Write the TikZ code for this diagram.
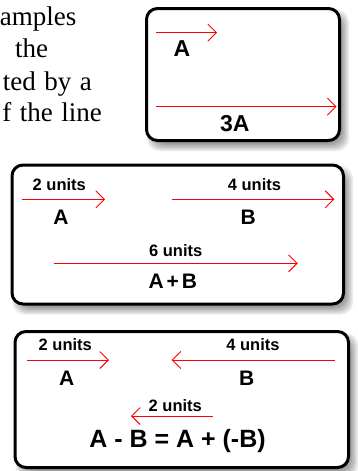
\documentclass[tikz,border=0pt]{standalone}
\usepackage{fontspec}
\setmainfont{Liberation Serif}
\newfontfamily\lsans{Liberation Sans}
\usetikzlibrary{arrows.meta}
\newcommand\boxshadow[4]{%
  \foreach \s in {-3,-1.5,0,1.5,3,4.5}{%
    \fill[black,opacity=0.08,rounded corners=12pt]
      ({#1+5-(\s)},{#2+6-(\s)}) rectangle ({#3+5+(\s)},{#4+6+(\s)});}}
\newcommand\wsp{\hspace{8.5pt}}
\begin{document}
\begin{tikzpicture}[x=1pt,y=-1pt,
  vec/.style={draw=red, line width=0.9pt, -{Straight Barb[length=8.5pt,width=17pt]}},
  frame/.style={draw=black, line width=3pt, rounded corners=11pt, fill=white},
  biglab/.style={font=\lsans\bfseries\fontsize{23}{23}\selectfont, inner sep=0pt, anchor=base},
  lab/.style={font=\lsans\bfseries\fontsize{21}{21}\selectfont, inner sep=0pt, anchor=base},
  eqlab/.style={font=\lsans\bfseries\fontsize{25}{25}\selectfont, inner sep=0pt, anchor=base},
  units/.style={font=\lsans\bfseries\fontsize{16.5}{16.5}\selectfont, inner sep=0pt, anchor=base},
  prose/.style={font=\fontsize{27}{27}\selectfont, inner sep=0pt}]
\useasboundingbox (0,0) rectangle (358,471);
\clip (0,0) rectangle (358,471);
\fill[white] (0,0) rectangle (358,471);

% cut-off prose at top left (justified text)
\node[prose, anchor=base east] (t1) at (76.5,25) {amples};
\node[prose, anchor=base west] (t2) at (15,57.3) {the};
\node[prose, anchor=base east] (t3) at (92,90) {ted\wsp by\wsp a};
\node[prose, anchor=base east] (t4) at (102,121.7) {f\wsp the\wsp line};

% box 1
\boxshadow{146.5}{8.5}{339.5}{140.5}
\draw[frame] (146.5,8.5) rectangle (339.5,140.5);
\coordinate (a1s) at (156,32.7); \coordinate (a1e) at (217,32.7);
\draw[vec] (a1s) -- (a1e);
\node[biglab] (a1) at (182,56) {A};
\coordinate (b1s) at (156,106.7); \coordinate (b1e) at (336.5,106.7);
\draw[vec] (b1s) -- (b1e);
\node[biglab] (b1) at (234.7,131.7) {3A};

% box 2
\boxshadow{12}{165}{343.5}{304}
\draw[frame] (12,165) rectangle (343.5,304);
\node[units] (u21) at (59.3,190) {2 units};
\coordinate (a2s) at (22,199.3); \coordinate (a2e) at (105,199.3);
\draw[vec] (a2s) -- (a2e);
\node[lab] (a2) at (61,224) {A};
\node[units] (u22) at (254.5,190) {4 units};
\coordinate (b2s) at (171.7,199.3); \coordinate (b2e) at (334.3,199.3);
\draw[vec] (b2s) -- (b2e);
\node[lab] (b2) at (248.3,224) {B};
\node[units] (u23) at (175.7,256) {6 units};
\coordinate (c2s) at (54,263.3); \coordinate (c2e) at (297.7,263.3);
\draw[vec] (c2s) -- (c2e);
\node[lab] (c2) at (172.8,288.3) {A\hspace{3pt}+\hspace{3pt}B};

% box 3
\boxshadow{15}{331.5}{348.5}{467.5}
\draw[frame] (15,331.5) rectangle (348.5,467.5);
\node[units] (u31) at (65.3,350.7) {2 units};
\coordinate (a3s) at (26.7,360); \coordinate (a3e) at (109,360);
\draw[vec] (a3s) -- (a3e);
\node[lab] (a3) at (66.7,385) {A};
\node[units] (u32) at (253,350.7) {4 units};
\coordinate (b3s) at (335,360); \coordinate (b3e) at (171.7,360);
\draw[vec] (b3s) -- (b3e);
\node[lab] (b3) at (246.7,385) {B};
\node[units] (u33) at (175.3,411.7) {2 units};
\coordinate (c3s) at (212.7,416); \coordinate (c3e) at (131,416);
\draw[vec] (c3s) -- (c3e);
\node[eqlab] (c3) at (177.5,447.3) {A - B = A + (-B)};
\end{tikzpicture}
\end{document}
